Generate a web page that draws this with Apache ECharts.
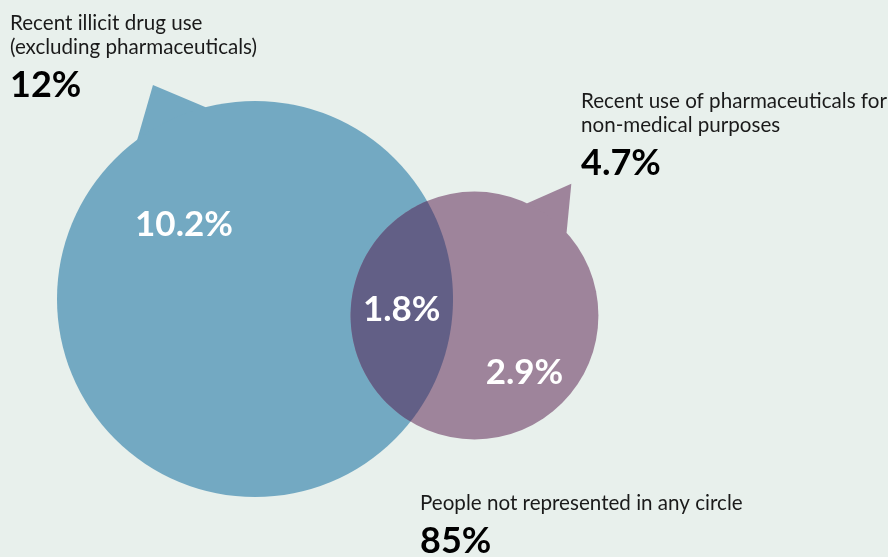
<!DOCTYPE html>
<html><head><meta charset="utf-8">
<script src="https://cdn.jsdelivr.net/npm/echarts@6/dist/echarts.min.js"></script>
<style>html,body{margin:0;padding:0;background:#e8f0ec}#c{width:888px;height:557px}</style>
</head><body><div id="c"></div>
<script>
// ---- data ----
const groupNames = ['Recent illicit drug use\n(excluding pharmaceuticals)', 'Recent use of pharmaceuticals for\nnon-medical purposes'];
const groupTotals = [12, 4.7];          // % of people in each circle
const exclusiveShares = [10.2, 2.9];    // % only in that circle
const overlapShare = 1.8;               // % in both circles
const outsideLabel = 'People not represented in any circle';
const outsideShare = 85;

// ---- layout / style (not data) ----
const layout = {
  centers: [[255, 299], [474.5, 315.5]],
  radiusPerSqrtPct: 57.16,
  tails: [
    { a0: 233.5, a1: 255.6, apex: 244.5, len: 1.197 },
    { a0: 295.2, a1: 318.0, apex: 306.3, len: 1.32 }
  ],
  colors: ['#73a9c2', '#9e849b'],
  overlapColor: '#625f86',
  headingPos: [[10, 23], [581, 101], [420, 503]],
  innerLabelOffset: [[-71, -74], [50, 57]],
  font: 'Lato',
  headingSize: 20.6,
  bigSize: 36,
  innerSize: 35
};

const fmt = v => (Number.isInteger(v) ? v : v.toFixed(1)) + '%';
const deg = a => a * Math.PI / 180;

const circleData = groupTotals.map((v, i) => [layout.centers[i][0], layout.centers[i][1], v, exclusiveShares[i]]);

function textEl(text, x, y, size, bold, fill, align) {
  return {
    type: 'text',
    style: {
      text, x, y, fill,
      fontSize: size, fontFamily: layout.font, fontWeight: bold ? 'bold' : 'normal',
      align: align || 'left', verticalAlign: 'middle',
      textAlign: align || 'left', textVerticalAlign: 'middle'
    }
  };
}

function pixCircle(api, i) {
  const c = api.coord([circleData[i][0], circleData[i][1]]);
  const r = api.size([layout.radiusPerSqrtPct * Math.sqrt(circleData[i][2]), 0])[0];
  return { c, r };
}

function renderItem(params, api) {
  const i = params.dataIndex;
  const children = [];
  const { c, r } = pixCircle(api, i);
  const col = layout.colors[i];
  const t = layout.tails[i];
  // tail
  children.push({
    type: 'polygon',
    shape: { points: [
      [c[0] + r * Math.cos(deg(t.a0)), c[1] + r * Math.sin(deg(t.a0))],
      [c[0] + r * t.len * Math.cos(deg(t.apex)), c[1] + r * t.len * Math.sin(deg(t.apex))],
      [c[0] + r * Math.cos(deg(t.a1)), c[1] + r * Math.sin(deg(t.a1))],
      [c[0], c[1]]
    ] },
    style: { fill: col }
  });
  children.push({ type: 'circle', shape: { cx: c[0], cy: c[1], r }, style: { fill: col } });

  if (i === 1) {
    // overlap lens
    const A = pixCircle(api, 0), B = pixCircle(api, 1);
    const dx = B.c[0] - A.c[0], dy = B.c[1] - A.c[1];
    const d = Math.hypot(dx, dy);
    const phi = Math.atan2(dy, dx);
    const a = (d * d + A.r * A.r - B.r * B.r) / (2 * d);
    const al1 = Math.acos(a / A.r), al2 = Math.acos((d - a) / B.r);
    const pts = [];
    const N = 80;
    for (let k = 0; k <= N; k++) {
      const th = phi - al1 + 2 * al1 * k / N;
      pts.push([A.c[0] + A.r * Math.cos(th), A.c[1] + A.r * Math.sin(th)]);
    }
    for (let k = 0; k <= N; k++) {
      const th = phi + Math.PI - al2 + 2 * al2 * k / N;
      pts.push([B.c[0] + B.r * Math.cos(th), B.c[1] + B.r * Math.sin(th)]);
    }
    children.push({ type: 'polygon', shape: { points: pts }, style: { fill: layout.overlapColor } });
    // overlap label at lens centre
    const left = d - B.r, right = A.r;
    const m = (left + right) / 2;
    children.push(textEl(fmt(overlapShare), A.c[0] + m * Math.cos(phi), A.c[1] + m * Math.sin(phi), layout.innerSize, true, '#fff', 'center'));
    // exclusive labels
    [A, B].forEach((C, j) => {
      const o = layout.innerLabelOffset[j];
      children.push(textEl(fmt(exclusiveShares[j]), C.c[0] + o[0], C.c[1] + o[1], layout.innerSize, true, '#fff', 'center'));
    });
    // headings
    const heads = [
      [groupNames[0], groupTotals[0]],
      [groupNames[1], groupTotals[1]],
      [outsideLabel, outsideShare]
    ];
    heads.forEach((h, j) => {
      const p = layout.headingPos[j];
      const lines = h[0].split('\n');
      lines.forEach((ln, k) => children.push(textEl(ln, p[0], p[1] + k * 24, layout.headingSize, false, '#1a1a1a')));
      children.push(textEl(fmt(h[1]), p[0], p[1] + lines.length * 24 + 14, layout.bigSize, true, '#000'));
    });
  }
  return { type: 'group', children };
}

const chart = echarts.init(document.getElementById('c'), null, { renderer: 'canvas' });
chart.setOption({
  backgroundColor: '#e8f0ec',
  animation: false,
  grid: { left: 0, right: 0, top: 0, bottom: 0 },
  xAxis: { type: 'value', min: 0, max: 888, show: false },
  yAxis: { type: 'value', min: 0, max: 557, inverse: true, show: false },
  series: [{
    type: 'custom',
    renderItem,
    data: circleData,
    clip: false
  }]
});
</script>
</body></html>
